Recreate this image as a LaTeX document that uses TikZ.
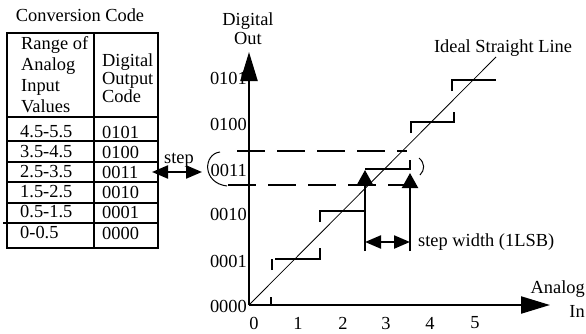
\documentclass[tikz,border=0pt]{standalone}
\usepackage{fontspec}
\setmainfont{Liberation Serif}
\usetikzlibrary{arrows.meta}
\begin{document}
\begin{tikzpicture}[x=1pt,y=-1pt,
  lbl/.style={inner sep=0pt, font=\fontsize{18.4}{21}\selectfont},
  rule/.style={line width=2pt},
  stair/.style={line width=2.2pt},
  axisline/.style={line width=2.2pt, -{Triangle[length=29pt,width=17pt]}},
  uparrow/.style={line width=2.2pt, -{Triangle[length=15pt,width=16pt]}},
  dblarrow/.style={line width=2.2pt, {Triangle[length=16pt,width=13pt]}-{Triangle[length=16pt,width=13pt]}},
  dashline/.style={line width=2pt, dash pattern=on 28pt off 12pt},
  ideal/.style={line width=0.8pt},
  arcline/.style={line width=1pt}]
\useasboundingbox (0,0) rectangle (586,333);

% ---- conversion code table ----
\node[lbl] (title) at (80,15) {Conversion Code};
\draw[rule] (7,33) rectangle (158,248);
\draw[rule] (94,33) -- (94,248);
\foreach \y in {117,141,162,182,203} \draw[rule] (7,\y) -- (158,\y);
\draw[rule] (3,223) -- (158,223);

\node[lbl, anchor=west, align=left] (hdrA) at (21,75) {Range of\\Analog\\Input\\Values};
\node[lbl, anchor=west, align=left, font=\fontsize{18.4}{18}\selectfont] (hdrB) at (102,78) {Digital\\Output\\Code};

\foreach \r/\c/\y [count=\i] in {4.5-5.5/0101/132, 3.5-4.5/0100/152, 2.5-3.5/0011/172,
                                 1.5-2.5/0010/192, 0.5-1.5/0001/212, 0-0.5/0000/233}{
  \node[lbl, anchor=west] (rng\i) at (20,\y) {\r};
  \node[lbl, anchor=west] (code\i) at (102,\y) {\c};
}

% ---- axis labels ----
\foreach \c/\y in {0101/78, 0100/124, 0011/170, 0010/214, 0001/261, 0000/306}
  \node[lbl, anchor=east] (y\c) at (247,\y) {\c};
\foreach \n/\x in {0/254, 1/298, 2/343, 3/386, 4/430, 5/475}
  \node[lbl] (x\n) at (\x,323) {\n};

\node[lbl, align=center, font=\fontsize{18.4}{19}\selectfont] (yname) at (248,29) {Digital\\Out};
\node[lbl, anchor=east, align=right] (xname) at (585,299) {Analog\\[3pt]In};
\node[lbl] (ideallbl) at (503,48) {Ideal Straight Line};
\node[lbl] (steplbl) at (179,160) {step};
\node[lbl, anchor=west] (swlbl) at (418,242) {step width (1LSB)};

% ---- axes ----
\coordinate (O) at (249,305);
\coordinate (ytip) at (249,52);
\coordinate (xtip) at (550,305);
\draw[axisline] (O) -- (ytip);
\draw[axisline] (O) -- (xtip);

% ideal transfer line
\coordinate (iend) at (496,57);
\draw[ideal] (O) -- (iend);

% ---- staircase ----
\draw[stair] (O) -- (271,305) -- (271,297);
\draw[stair] (272,270) -- (272,259);
\draw[stair] (275,259) -- (320,259) -- (320,248);
\draw[stair] (320,222) -- (320,211) -- (365,211);
\draw[stair] (365,169) -- (410,169) -- (410,160);
\draw[stair] (411,133) -- (411,122) -- (454,122) -- (454,112);
\draw[stair] (452,91) -- (452,80) -- (496,80);

% transition markers and step width
\coordinate (a1b) at (365,251); \coordinate (a1t) at (365,170);
\coordinate (a2b) at (410,251); \coordinate (a2t) at (410,173);
\draw[uparrow] (a1b) -- (a1t);
\draw[uparrow] (a2b) -- (a2t);
\coordinate (sw1) at (365,242); \coordinate (sw2) at (410,242);
\draw[dblarrow] (sw1) -- (sw2);

% ---- highlighted 0011 band ----
\coordinate (dA1) at (237,151); \coordinate (dA2) at (407,151);
\coordinate (dB1) at (228,185); \coordinate (dB2) at (404,185);
\draw[dashline] (dA1) -- (dA2);
\draw[dashline] (dB1) -- (dB2);
\draw[arcline] (220,152) .. controls (203,154) and (202,183) .. (227,186);
\draw[arcline] (419,158) .. controls (425,163) and (425,170) .. (420,175);

% step link from table row to axis code
\coordinate (sL) at (152,172); \coordinate (sR) at (202,172);
\draw[dblarrow] (sL) -- (sR);
\end{tikzpicture}
\end{document}
